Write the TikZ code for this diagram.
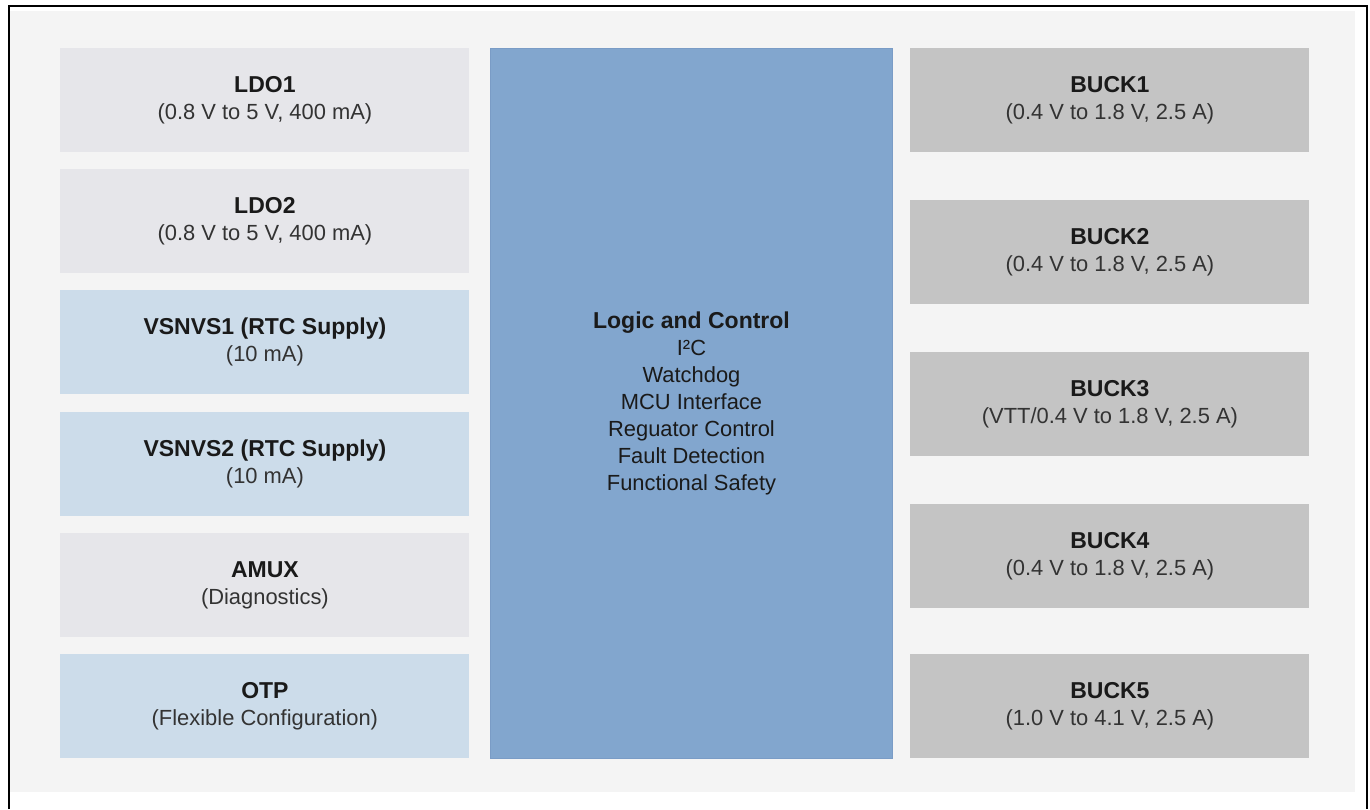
\documentclass[tikz,border=0pt]{standalone}
\usepackage{fontspec}
\setmainfont{Liberation Sans}
\definecolor{Ground}{HTML}{F4F4F4}
\definecolor{LdoGray}{HTML}{E6E6EA}
\definecolor{RtcBlue}{HTML}{CCDCEA}
\definecolor{CoreBlue}{HTML}{82A6CE}
\definecolor{CoreEdge}{HTML}{7A9CC6}
\definecolor{BuckGray}{HTML}{C4C4C4}
\definecolor{Ink}{HTML}{1A1A1A}
\definecolor{Sub}{HTML}{333333}
\newcommand\ttl[1]{{\fontsize{11.5}{13.5}\selectfont\bfseries\color{Ink}#1}}
\tikzset{
  blk/.style={anchor=north west,inner sep=0pt,align=center,minimum height=52pt,
    font=\fontsize{10.95}{13.5}\selectfont,text=Sub},
}

\begin{document}
\begin{tikzpicture}[x=0.5pt,y=-0.5pt]
  \useasboundingbox (0,0) rectangle (1370,809);
  \fill[Ground] (10,11) rectangle (1355,792);
  \draw[line width=1pt] (9,809) -- (9,6) -- (1367,6) -- (1367,809);
  % left column
  \foreach \y/\name/\col/\head/\rng in {
    48/ldo1/LdoGray/LDO1/{(0.8 V to 5 V, 400 mA)},
    169/ldo2/LdoGray/LDO2/{(0.8 V to 5 V, 400 mA)},
    290/vsnvs1/RtcBlue/VSNVS1 (RTC Supply)/{(10 mA)},
    412/vsnvs2/RtcBlue/VSNVS2 (RTC Supply)/{(10 mA)},
    533/amux/LdoGray/AMUX/{(Diagnostics)},
    654/otp/RtcBlue/OTP/{(Flexible Configuration)}} {
    \node[blk,fill=\col,minimum width=204.5pt] (\name) at (60,\y) {\ttl{\head}\\\rng};
  }
  % core logic
  \node[blk,fill=CoreBlue,draw=CoreEdge,line width=0.5pt,minimum width=201pt,
    minimum height=355pt,text=Ink] (logic) at (490,48)
    {\ttl{Logic and Control}\\I²C\\Watchdog\\MCU Interface\\Reguator Control\\
     Fault Detection\\Functional Safety};
  % right column
  \foreach \y/\name/\head/\rng in {
    48/buck1/BUCK1/{(0.4 V to 1.8 V, 2.5 A)},
    200/buck2/BUCK2/{(0.4 V to 1.8 V, 2.5 A)},
    352/buck3/BUCK3/{(VTT/0.4 V to 1.8 V, 2.5 A)},
    504/buck4/BUCK4/{(0.4 V to 1.8 V, 2.5 A)},
    654/buck5/BUCK5/{(1.0 V to 4.1 V, 2.5 A)}} {
    \node[blk,fill=BuckGray,minimum width=199.5pt] (\name) at (910,\y) {\ttl{\head}\\\rng};
  }
\end{tikzpicture}
\end{document}
